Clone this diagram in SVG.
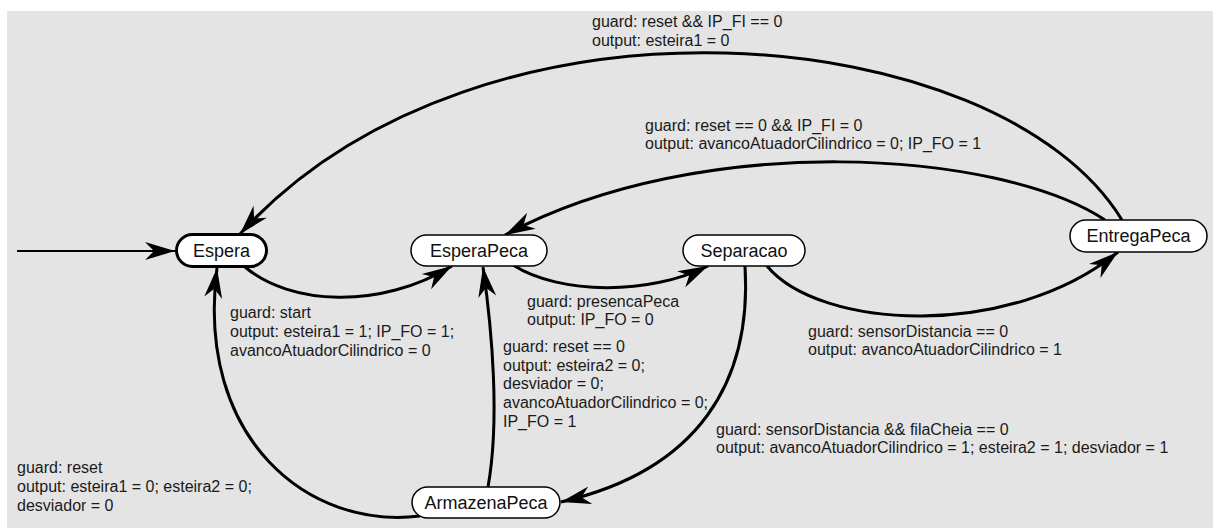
<svg xmlns="http://www.w3.org/2000/svg" width="1213" height="528" viewBox="0 0 1213 528">
<style>
.node rect{fill:#fff;stroke:#000;stroke-width:1.5}
.node text{font-family:"Liberation Sans",Arial,sans-serif;font-size:18px;fill:#111;text-anchor:middle}
.edge{fill:none;stroke:#000;stroke-width:3}
.lbl{font-family:"Liberation Sans",Arial,sans-serif;font-size:16px;fill:#1a1a1a}
</style>
<defs>
<marker id="ah" markerUnits="userSpaceOnUse" markerWidth="40" markerHeight="30" viewBox="-32 -15 40 30" refX="0" refY="0" orient="auto">
<path d="M0,0 L-30,-9 L-21,0 L-30,9 Z" fill="#000"/>
</marker>
</defs>
<rect x="7" y="11" width="1206" height="517" fill="#e4e4e4"/>
<g id="connectors">
<path class="edge" style="stroke-width:2" d="M17,251 L175,251" marker-end="url(#ah)"/>
<path class="edge" d="M245,267 C290,305 380,310 452,266" marker-end="url(#ah)"/>
<path class="edge" d="M513,265 C560,295 650,295 708,266" marker-end="url(#ah)"/>
<path class="edge" d="M767,266 C820,330 1010,340 1118,252" marker-end="url(#ah)"/>
<path class="edge" d="M745,266 C752,380 700,470 561,502" marker-end="url(#ah)"/>
<path class="edge" d="M488,487 C500,420 492,330 483,267" marker-end="url(#ah)"/>
<path class="edge" d="M420,516 C310,530 195,440 217,268" marker-end="url(#ah)"/>
<path class="edge" d="M1122,220 C1000,20 480,-30 240,234" marker-end="url(#ah)"/>
<path class="edge" d="M1105,220 C1000,150 700,130 505,235" marker-end="url(#ah)"/>
</g>
<g id="labels">
<text class="lbl" x="592" y="27">guard: reset &amp;&amp; IP_FI == 0</text>
<text class="lbl" x="592" y="46">output: esteira1 = 0</text>
<text class="lbl" x="645" y="131">guard: reset == 0 &amp;&amp; IP_FI = 0</text>
<text class="lbl" x="645" y="149">output: avancoAtuadorCilindrico = 0; IP_FO = 1</text>
<text class="lbl" x="230" y="318">guard: start</text>
<text class="lbl" x="230" y="337">output: esteira1 = 1; IP_FO = 1;</text>
<text class="lbl" x="230" y="356">avancoAtuadorCilindrico = 0</text>
<text class="lbl" x="527" y="307">guard: presencaPeca</text>
<text class="lbl" x="527" y="325">output: IP_FO = 0</text>
<text class="lbl" x="808" y="337">guard: sensorDistancia == 0</text>
<text class="lbl" x="808" y="355">output: avancoAtuadorCilindrico = 1</text>
<text class="lbl" x="503" y="352">guard: reset == 0</text>
<text class="lbl" x="503" y="371">output: esteira2 = 0;</text>
<text class="lbl" x="503" y="389">desviador = 0;</text>
<text class="lbl" x="503" y="408">avancoAtuadorCilindrico = 0;</text>
<text class="lbl" x="503" y="427">IP_FO = 1</text>
<text class="lbl" x="716" y="435">guard: sensorDistancia &amp;&amp; filaCheia == 0</text>
<text class="lbl" x="716" y="453">output: avancoAtuadorCilindrico = 1; esteira2 = 1; desviador = 1</text>
<text class="lbl" x="17" y="473">guard: reset</text>
<text class="lbl" x="17" y="492">output: esteira1 = 0; esteira2 = 0;</text>
<text class="lbl" x="17" y="511">desviador = 0</text>
</g>
<g id="Espera" class="node">
<rect x="176.5" y="234.5" width="90" height="32" rx="16" style="stroke-width:3"/>
<text x="221.5" y="257">Espera</text>
</g>
<g id="EsperaPeca" class="node">
<rect x="411" y="235" width="136" height="31" rx="15.5"/>
<text x="479" y="257">EsperaPeca</text>
</g>
<g id="Separacao" class="node">
<rect x="683" y="235" width="122" height="31" rx="15.5"/>
<text x="744" y="257">Separacao</text>
</g>
<g id="EntregaPeca" class="node">
<rect x="1070" y="220" width="137" height="32" rx="16"/>
<text x="1138.5" y="242">EntregaPeca</text>
</g>
<g id="ArmazenaPeca" class="node">
<rect x="412" y="487" width="148" height="31" rx="15.5"/>
<text x="486" y="509">ArmazenaPeca</text>
</g>
</svg>
